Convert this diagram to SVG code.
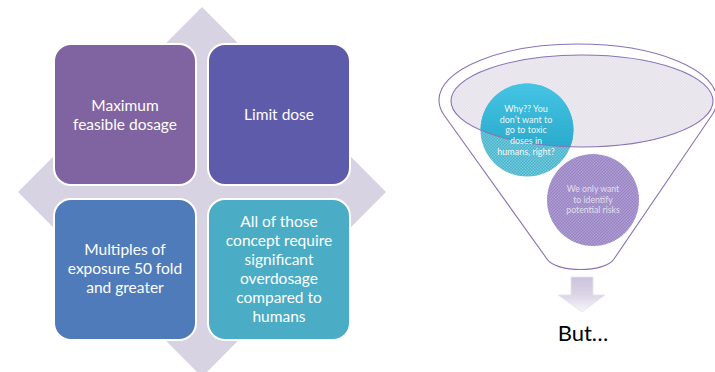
<svg xmlns="http://www.w3.org/2000/svg" width="715" height="372" viewBox="0 0 715 372">
  <style>
    .box { stroke: #ffffff; stroke-width: 2; }
    .lbl { font-family: Lato, "Liberation Sans", sans-serif; font-size: 15.5px; fill: #ffffff; text-anchor: middle; }
    .small { font-family: Lato, "Liberation Sans", sans-serif; fill: #ffffff; text-anchor: middle; }
    .outline { fill: none; stroke: #8a72b6; stroke-width: 1.1; }
  </style>
  <defs>
    <!-- fine checker textures -->
    <pattern id="texGrey" width="3" height="3" patternUnits="userSpaceOnUse">
      <rect width="3" height="3" fill="#e4e1ea"/>
      <rect x="0" y="0" width="1.5" height="1.5" fill="#eeecf2"/>
      <rect x="1.5" y="1.5" width="1.5" height="1.5" fill="#eeecf2"/>
    </pattern>
    <pattern id="texTeal" width="3" height="3" patternUnits="userSpaceOnUse">
      <rect width="3" height="3" fill="#44b3cc"/>
      <rect x="0" y="0" width="1.5" height="1.5" fill="#79cadc"/>
      <rect x="1.5" y="1.5" width="1.5" height="1.5" fill="#79cadc"/>
    </pattern>
    <pattern id="texPurple" width="3" height="3" patternUnits="userSpaceOnUse">
      <rect width="3" height="3" fill="#9883c2"/>
      <rect x="0" y="0" width="1.5" height="1.5" fill="#b09fd4"/>
      <rect x="1.5" y="1.5" width="1.5" height="1.5" fill="#b09fd4"/>
    </pattern>
    <linearGradient id="tealShade" x1="0" y1="0" x2="0" y2="1">
      <stop offset="0" stop-color="#45c4e4"/>
      <stop offset="1" stop-color="#1f9fc2"/>
    </linearGradient>
    <linearGradient id="arrowShade" x1="0" y1="0" x2="0" y2="1">
      <stop offset="0" stop-color="#cbc3dc"/>
      <stop offset="0.55" stop-color="#ddd7e8"/>
      <stop offset="1" stop-color="#f7f6fa"/>
    </linearGradient>
    <clipPath id="bowlClip">
      <ellipse cx="582" cy="101" rx="131" ry="46"/>
    </clipPath>
  </defs>

  <!-- matrix backdrop -->
  <polygon id="backdrop" points="202,7 386,192 202,377 18,192" fill="#d7d3e2"/>

  <g id="box-max">
    <rect class="box" x="54" y="44" width="142" height="141" rx="17" fill="#8064a2"/>
    <text class="lbl" x="125" y="110.5">Maximum</text>
    <text class="lbl" x="125" y="129.5">feasible dosage</text>
  </g>
  <g id="box-limit">
    <rect class="box" x="208" y="44" width="142" height="141" rx="17" fill="#5f5bab"/>
    <text class="lbl" x="279" y="119.5">Limit dose</text>
  </g>
  <g id="box-multiples">
    <rect class="box" x="54" y="199" width="142" height="141" rx="17" fill="#4f7bbb"/>
    <text class="lbl" x="125" y="254.5">Multiples of</text>
    <text class="lbl" x="125" y="273.5">exposure 50 fold</text>
    <text class="lbl" x="125" y="292.5">and greater</text>
  </g>
  <g id="box-overdose">
    <rect class="box" x="208" y="199" width="142" height="141" rx="17" fill="#4bacc6"/>
    <text class="lbl" x="279" y="226.5">All of those</text>
    <text class="lbl" x="279" y="245.5">concept require</text>
    <text class="lbl" x="279" y="264.5">significant</text>
    <text class="lbl" x="279" y="283.5">overdosage</text>
    <text class="lbl" x="279" y="302.5">compared to</text>
    <text class="lbl" x="279" y="321.5">humans</text>
  </g>

  <!-- funnel -->
  <g id="funnel">
    <path class="outline" d="M 439,100 A 139 56 0 0 1 717,100 Q 717,108 712,115 L 614,259 C 605,273 556,273 547,259 L 444,115 Q 439,108 439,100 Z"/>
    <ellipse cx="582" cy="101" rx="131" ry="46" fill="url(#texGrey)"/>
  </g>

  <g id="circle-why">
    <circle cx="527" cy="130" r="46.5" fill="url(#texTeal)"/>
    <circle cx="527" cy="130" r="46.5" fill="url(#tealShade)" clip-path="url(#bowlClip)"/>
    <ellipse class="outline" cx="582" cy="101" rx="131" ry="46"/>
    <g class="small" font-size="9px" fill-opacity="0.92">
      <text x="526" y="112.2">Why?? You</text>
      <text x="526" y="122.8">don’t want to</text>
      <text x="526" y="133.4">go to toxic</text>
      <text x="526" y="144">doses in</text>
      <text x="526" y="154.6">humans, right?</text>
    </g>
  </g>

  <g id="circle-risks">
    <circle cx="593" cy="200" r="46" fill="url(#texPurple)"/>
    <g class="small" font-size="8.7px" fill-opacity="0.7">
      <text x="593" y="192">We only want</text>
      <text x="593" y="202.5">to identify</text>
      <text x="593" y="213">potential risks</text>
    </g>
  </g>

  <g id="connectors">
    <polygon points="571,277 593,277 593,295 605,295 582,312 558,295 571,295" fill="url(#arrowShade)" stroke="#e6e2ee" stroke-width="0.8"/>
  </g>

  <g id="but">
    <text x="583" y="341" font-family="Lato, 'Liberation Sans', sans-serif" font-size="22px" fill="#000000" text-anchor="middle">But…</text>
  </g>
</svg>
